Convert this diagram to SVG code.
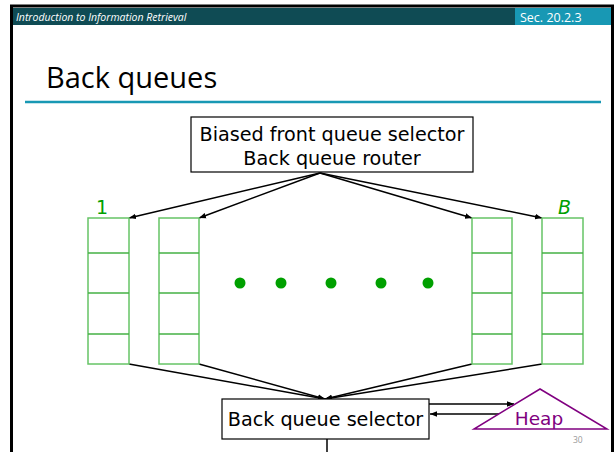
<svg xmlns="http://www.w3.org/2000/svg" width="615" height="452" viewBox="0 0 615 452">
  <defs>
    <marker id="ah" viewBox="0 0 10 10" refX="10" refY="5" markerWidth="7" markerHeight="7" orient="auto" markerUnits="userSpaceOnUse">
      <path d="M0,1 L10,5 L0,9 z" fill="#000"/>
    </marker>
  </defs>
  <style>
    .box { fill: #fff; stroke: #000; stroke-width: 1.2; }
    .lbl { font-family: "DejaVu Sans", "Liberation Sans", sans-serif; font-size: 19.2px; fill: #000; }
    .q { fill: #fff; stroke: #66c466; stroke-width: 1.5; }
    .qd { stroke: #44b044; stroke-width: 1.3; }
    .conn { stroke: #000; stroke-width: 1.5; fill: none; }
    .dot { fill: #00a000; }
    .green { font-family: "DejaVu Sans", "Liberation Sans", sans-serif; font-size: 19px; fill: #00a000; }
  </style>

  <!-- slide frame -->
  <rect x="0" y="0" width="615" height="452" fill="#fff"/>
  <rect x="11.5" y="6" width="601" height="460" fill="none" stroke="#000" stroke-width="3"/>
  <rect x="13" y="8" width="502" height="17" fill="#0f4b54"/>
  <rect x="515" y="8" width="96" height="17" fill="#1898b4"/>
  <text x="16" y="21" font-family="Open Sans, Liberation Sans, sans-serif" font-size="10.5" font-style="italic" fill="#fff">Introduction to Information Retrieval</text>
  <text x="520" y="21.5" font-family="Open Sans, Liberation Sans, sans-serif" font-size="12.5" fill="#fff">Sec. 20.2.3</text>
  <text x="46" y="88" font-family="Open Sans, Liberation Sans, sans-serif" font-size="29" fill="#000">Back queues</text>
  <line x1="25" y1="102" x2="601" y2="102" stroke="#1898b4" stroke-width="2.5"/>

  <!-- connectors -->
  <g id="connectors">
    <line class="conn" x1="320" y1="173" x2="129" y2="218" marker-end="url(#ah)"/>
    <line class="conn" x1="320" y1="173" x2="199" y2="218" marker-end="url(#ah)"/>
    <line class="conn" x1="320" y1="173" x2="472" y2="218" marker-end="url(#ah)"/>
    <line class="conn" x1="320" y1="173" x2="542" y2="218" marker-end="url(#ah)"/>
    <line class="conn" x1="129" y1="364" x2="325" y2="399" marker-end="url(#ah)"/>
    <line class="conn" x1="199" y1="364" x2="325" y2="399" marker-end="url(#ah)"/>
    <line class="conn" x1="472" y1="364" x2="325" y2="399" marker-end="url(#ah)"/>
    <line class="conn" x1="542" y1="364" x2="325" y2="399" marker-end="url(#ah)"/>
    <line class="conn" x1="429" y1="404" x2="514" y2="404" marker-end="url(#ah)"/>
    <line class="conn" x1="500" y1="414" x2="430" y2="414" marker-end="url(#ah)"/>
    <line class="conn" x1="327" y1="439" x2="327" y2="452"/>
  </g>

  <!-- router -->
  <g id="router">
    <rect class="box" x="191" y="117" width="282" height="55"/>
    <text class="lbl" x="332" y="141" text-anchor="middle">Biased front queue selector</text>
    <text class="lbl" x="332" y="165" text-anchor="middle">Back queue router</text>
  </g>

  <!-- back queues -->
  <g id="queue1">
    <rect class="q" x="88" y="218" width="41" height="146"/>
    <line class="qd" x1="88" y1="253" x2="129" y2="253"/>
    <line class="qd" x1="88" y1="293" x2="129" y2="293"/>
    <line class="qd" x1="88" y1="334" x2="129" y2="334"/>
    <text class="green" x="96" y="214">1</text>
  </g>
  <g id="queue2">
    <rect class="q" x="159" y="218" width="40" height="146"/>
    <line class="qd" x1="159" y1="253" x2="199" y2="253"/>
    <line class="qd" x1="159" y1="293" x2="199" y2="293"/>
    <line class="qd" x1="159" y1="334" x2="199" y2="334"/>
  </g>
  <g id="queue3">
    <rect class="q" x="472" y="218" width="40" height="146"/>
    <line class="qd" x1="472" y1="253" x2="512" y2="253"/>
    <line class="qd" x1="472" y1="293" x2="512" y2="293"/>
    <line class="qd" x1="472" y1="334" x2="512" y2="334"/>
  </g>
  <g id="queueB">
    <rect class="q" x="542" y="218" width="41" height="146"/>
    <line class="qd" x1="542" y1="253" x2="583" y2="253"/>
    <line class="qd" x1="542" y1="293" x2="583" y2="293"/>
    <line class="qd" x1="542" y1="334" x2="583" y2="334"/>
    <text class="green" x="558" y="214" font-style="italic">B</text>
  </g>

  <!-- ellipsis dots -->
  <g id="dots">
    <circle class="dot" cx="240" cy="283" r="5.5"/>
    <circle class="dot" cx="281" cy="283" r="5.5"/>
    <circle class="dot" cx="331" cy="283" r="5.5"/>
    <circle class="dot" cx="381" cy="283" r="5.5"/>
    <circle class="dot" cx="428" cy="283" r="5.5"/>
  </g>

  <!-- selector -->
  <g id="selector">
    <rect class="box" x="222" y="399" width="207" height="40"/>
    <text class="lbl" x="325.5" y="426" text-anchor="middle">Back queue selector</text>
  </g>

  <!-- heap -->
  <g id="heap">
    <polygon points="540,389 474,429 607,429" fill="#fff" stroke="#800080" stroke-width="1.5"/>
    <text x="539" y="425" text-anchor="middle" font-family="DejaVu Sans, Liberation Sans, sans-serif" font-size="18.5" fill="#800080">Heap</text>
  </g>

  <text x="573" y="443" font-family="Open Sans, Liberation Sans, sans-serif" font-size="8.5" fill="#999">30</text>
</svg>
